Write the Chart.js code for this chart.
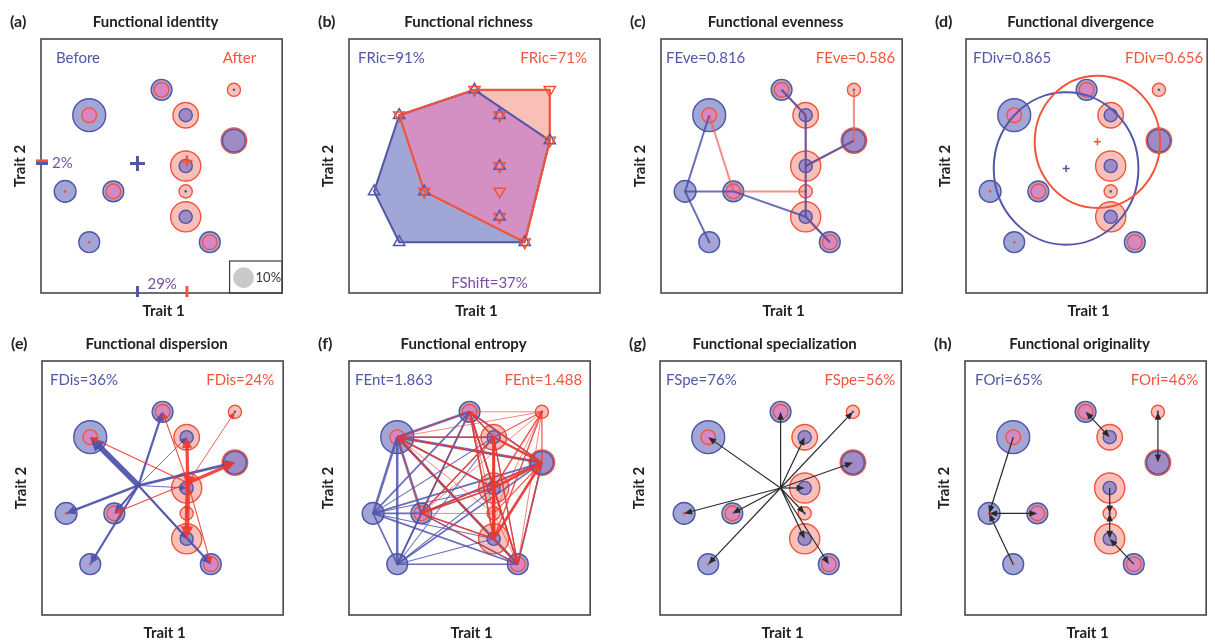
<!DOCTYPE html>
<html>
<head>
<meta charset="utf-8">
<title>Functional diversity indices</title>
<script src="https://cdn.jsdelivr.net/npm/chart.js@4.4.0/dist/chart.umd.min.js"></script>
<style>
  html, body { margin: 0; padding: 0; background: #fff; }
  body { width: 1215px; height: 640px; overflow: hidden; position: relative; }
  .panel { position: absolute; width: 300px; height: 330px; }
</style>
</head>
<body>
<div class="panel" style="left:0px;top:0px"><canvas id="pa" width="300" height="330"></canvas></div>
<div class="panel" style="left:308px;top:0px"><canvas id="pb" width="300" height="330"></canvas></div>
<div class="panel" style="left:620px;top:0px"><canvas id="pc" width="300" height="330"></canvas></div>
<div class="panel" style="left:925px;top:0px"><canvas id="pd" width="300" height="330"></canvas></div>
<div class="panel" style="left:1px;top:322px"><canvas id="pe" width="300" height="330"></canvas></div>
<div class="panel" style="left:308px;top:322px"><canvas id="pf" width="300" height="330"></canvas></div>
<div class="panel" style="left:619px;top:322px"><canvas id="pg" width="300" height="330"></canvas></div>
<div class="panel" style="left:924px;top:322px"><canvas id="ph" width="300" height="330"></canvas></div>

<script>
// species positions in trait space (trait 1, trait 2), same in every panel
var traitX = [2, 5, 6, 8, 8, 6, 6, 6, 7, 3, 1, 2];
var traitY = [7, 8, 7, 8, 6, 5, 4, 3, 2, 4, 4, 2];
// relative abundance (%) before and after
var abundBefore = [25, 10, 4, 0, 12, 4, 0, 4, 10, 10, 11, 10];
var abundAfter  = [5, 5, 15, 4, 15, 21, 4, 21, 5, 5, 0, 0];

// community weighted means (panel a, e)
var cwmBefore = [4.0, 5.1];
var cwmAfter = [6.05, 5.2];
// centre of the species pool (panel g)
var poolCenter = [5.0, 5.0];
// functional divergence circles (panel d)
var divCenterBefore = [4.15, 4.9];
var divRadiusBefore = 3.0;
var divCenterAfter = [5.45, 5.95];
var divRadiusAfter = 2.6;
// convex hull vertices, species index (panel b)
var hullBefore = [0, 1, 4, 8, 11, 10];
var hullAfter = [0, 1, 3, 4, 8, 9];
// minimum spanning trees (panel c)
var mstBefore = [[0, 10], [10, 11], [10, 9], [9, 7], [7, 8], [7, 5], [5, 2], [2, 1], [5, 4]];
var mstAfter = [[0, 9], [9, 6], [6, 5], [6, 7], [7, 8], [5, 2], [2, 1], [5, 4], [4, 3]];
// nearest neighbour links: from, to, double headed (panel h)
var nnLinks = [[0, 10, 0], [11, 10, 0], [9, 10, 1], [1, 2, 1], [3, 4, 1], [5, 6, 0], [6, 7, 1], [8, 7, 0]];
// size legend (panel a)
var legendAbund = 10;
var legendPos = [8.4, 0.6];

var panelIds = ['pa', 'pb', 'pc', 'pd', 'pe', 'pf', 'pg', 'ph'];
var panelLetters = ['(a)', '(b)', '(c)', '(d)', '(e)', '(f)', '(g)', '(h)'];
var panelTitles = ['Functional identity', 'Functional richness', 'Functional evenness', 'Functional divergence',
  'Functional dispersion', 'Functional entropy', 'Functional specialization', 'Functional originality'];
var labelsBefore = ['Before', 'FRic=91%', 'FEve=0.816', 'FDiv=0.865', 'FDis=36%', 'FEnt=1.863', 'FSpe=76%', 'FOri=65%'];
var labelsAfter = ['After', 'FRic=71%', 'FEve=0.586', 'FDiv=0.656', 'FDis=24%', 'FEnt=1.488', 'FSpe=56%', 'FOri=46%'];
var insetL = [15, 9, 5, 7, 8, 6, 6, 10];
var insetR = [26, 13, 7, 4, 9, 8, 6, 8];

var FONT = 'Lato, "Open Sans", sans-serif';
var BLUE = '#5156a8', RED = '#f0553c', PURPLE = '#7b4ea6';
var BLUE_FILL = 'rgba(84,92,180,0.55)', RED_FILL = 'rgba(240,90,70,0.38)';
// smaller circle drawn over the larger one of the other colour
var RED_ON_BLUE = 'rgba(245,118,185,0.62)', BLUE_ON_RED = 'rgba(95,100,205,0.58)';

// per-panel drawing hooks, kept out of the chart options so they are not treated as scriptable
var hooks = [];

function rad(p){ return p > 0 ? 10.4 * Math.sqrt(p / 10) : 1.3; }
function px(chart, v){ return chart.scales.x.getPixelForValue(v); }
function py(chart, v){ return chart.scales.y.getPixelForValue(v); }

// bubbles: larger circle of each species underneath, smaller on top
function circleSets(){
  var big = [], small = [], bigBg = [], bigBd = [], smBg = [], smBd = [], smBw = [];
  for (var i = 0; i < traitX.length; i++){
    var b = abundBefore[i], a = abundAfter[i];
    var blueBig = b >= a;
    big.push({x: traitX[i], y: traitY[i], r: rad(Math.max(a, b))});
    small.push({x: traitX[i], y: traitY[i], r: rad(Math.min(a, b))});
    bigBg.push(blueBig ? BLUE_FILL : RED_FILL);
    bigBd.push(blueBig ? BLUE : RED);
    var zero = Math.min(a, b) === 0;
    smBg.push(zero ? (blueBig ? RED : BLUE) : (blueBig ? RED_ON_BLUE : BLUE_ON_RED));
    smBd.push(blueBig ? RED : BLUE);
    smBw.push(zero ? 0 : 1.4);
  }
  return [
    {data: small, backgroundColor: smBg, borderColor: smBd, borderWidth: smBw, order: 5},
    {data: big, backgroundColor: bigBg, borderColor: bigBd, borderWidth: 1.4, order: 6}
  ];
}

function crossSet(pt, r, color, w){
  return {data: [{x: pt[0], y: pt[1], r: r}], pointStyle: 'cross', borderColor: color,
    backgroundColor: color, borderWidth: w, order: 1};
}

function arrowHead(ctx, x, y, ang, len, half){
  ctx.beginPath();
  ctx.moveTo(x, y);
  ctx.lineTo(x - len * Math.cos(ang) + half * Math.sin(ang), y - len * Math.sin(ang) - half * Math.cos(ang));
  ctx.lineTo(x - len * Math.cos(ang) - half * Math.sin(ang), y - len * Math.sin(ang) + half * Math.cos(ang));
  ctx.closePath();
  ctx.fill();
}

function arrow(ctx, x0, y0, x1, y1, w, color, len, half, both){
  var ang = Math.atan2(y1 - y0, x1 - x0);
  var d = Math.sqrt((x1 - x0) * (x1 - x0) + (y1 - y0) * (y1 - y0));
  var cut = Math.min(len * 0.8, d);
  ctx.strokeStyle = color; ctx.fillStyle = color; ctx.lineWidth = w;
  ctx.beginPath();
  ctx.moveTo(both ? x0 + cut * Math.cos(ang) : x0, both ? y0 + cut * Math.sin(ang) : y0);
  ctx.lineTo(x1 - cut * Math.cos(ang), y1 - cut * Math.sin(ang));
  ctx.stroke();
  arrowHead(ctx, x1, y1, ang, len, half);
  if (both) arrowHead(ctx, x0, y0, ang + Math.PI, len, half);
}

function text(ctx, s, x, y, font, color, align){
  ctx.font = font; ctx.fillStyle = color; ctx.textAlign = align || 'left'; ctx.textBaseline = 'middle';
  ctx.fillText(s, x, y);
}

var decor = {
  id: 'decor',
  beforeDatasetsDraw: function(chart){
    var h = hooks[chart.options.plugins.decor.k];
    if (h.under){ chart.ctx.save(); h.under(chart, chart.ctx); chart.ctx.restore(); }
  },
  afterDatasetsDraw: function(chart){
    var h = hooks[chart.options.plugins.decor.k];
    if (h.over){ chart.ctx.save(); h.over(chart, chart.ctx); chart.ctx.restore(); }
  },
  afterDraw: function(chart){
    var k = chart.options.plugins.decor.k, h = hooks[k], ctx = chart.ctx, ca = chart.chartArea;
    var cx = (ca.left + ca.right) / 2, cy = (ca.top + ca.bottom) / 2;
    ctx.save();
    ctx.strokeStyle = '#3c3c3c'; ctx.lineWidth = 1.5;
    ctx.strokeRect(ca.left, ca.top, ca.right - ca.left, ca.bottom - ca.top);
    text(ctx, panelLetters[k], ca.left - 31, ca.top - 17, 'bold 16px ' + FONT, '#222');
    text(ctx, panelTitles[k], cx - 6, ca.top - 17, 'bold 15px ' + FONT, '#222', 'center');
    text(ctx, 'Trait 1', cx + 2, ca.bottom + 18, 'bold 15px ' + FONT, '#222', 'center');
    ctx.save();
    ctx.translate(ca.left - 21, cy); ctx.rotate(-Math.PI / 2);
    text(ctx, 'Trait 2', 0, 0, 'bold 15px ' + FONT, '#222', 'center');
    ctx.restore();
    text(ctx, labelsBefore[k], ca.left + insetL[k], ca.top + 19, '15px ' + FONT, BLUE);
    text(ctx, labelsAfter[k], ca.right - insetR[k], ca.top + 19, '15px ' + FONT, RED, 'right');
    if (h.last) h.last(chart, ctx);
    ctx.restore();
  }
};

function makePanel(k, datasets, under, over, last){
  hooks[k] = {under: under, over: over, last: last};
  return new Chart(document.getElementById(panelIds[k]), {
    type: 'bubble',
    data: {datasets: datasets},
    options: {
      responsive: false, animation: false, events: [],
      layout: {padding: {left: 41, top: 39, right: 7, bottom: 37}},
      scales: {
        x: {type: 'linear', min: 0, max: 10, display: false},
        y: {type: 'linear', min: 0, max: 10, display: false}
      },
      plugins: {legend: {display: false}, tooltip: {enabled: false}, decor: {k: k}}
    },
    plugins: [decor]
  });
}

function polyPath(chart, ctx, idx){
  ctx.beginPath();
  idx.forEach(function(i, n){
    var x = px(chart, traitX[i]), y = py(chart, traitY[i]);
    if (n === 0) ctx.moveTo(x, y); else ctx.lineTo(x, y);
  });
  ctx.closePath();
}

function present(arr){
  var out = [];
  arr.forEach(function(p, i){ if (p > 0) out.push(i); });
  return out;
}

function build(){
  // (a) functional identity
  makePanel(0, circleSets().concat([
    crossSet(cwmBefore, 7.5, BLUE, 3),
    crossSet(cwmAfter, 5.5, RED, 2.5),
    {data: [{x: legendPos[0], y: legendPos[1], r: rad(legendAbund)}], backgroundColor: '#c9c9c9',
      borderColor: '#c9c9c9', borderWidth: 0, order: 1}
  ]), null, null, function(chart, ctx){
    var ca = chart.chartArea;
    ctx.lineWidth = 3;
    [[cwmBefore, BLUE], [cwmAfter, RED]].forEach(function(c){
      ctx.strokeStyle = c[1];
      var x = px(chart, c[0][0]);
      ctx.beginPath(); ctx.moveTo(x, ca.bottom - 7); ctx.lineTo(x, ca.bottom + 4); ctx.stroke();
    });
    [[cwmAfter, RED], [cwmBefore, BLUE]].forEach(function(c){
      ctx.strokeStyle = c[1];
      var y = py(chart, c[0][1]);
      ctx.beginPath(); ctx.moveTo(ca.left - 5, y); ctx.lineTo(ca.left + 7, y); ctx.stroke();
    });
    text(ctx, '29%', (px(chart, cwmBefore[0]) + px(chart, cwmAfter[0])) / 2, ca.bottom - 9, '15px ' + FONT, PURPLE, 'center');
    text(ctx, '2%', ca.left + 11, py(chart, cwmBefore[1]), '15px ' + FONT, PURPLE);
    ctx.strokeStyle = '#3c3c3c'; ctx.lineWidth = 1.2;
    var lx = px(chart, 7.82), ly = py(chart, 1.26);
    ctx.strokeRect(lx, ly, ca.right - lx, ca.bottom - ly);
    text(ctx, legendAbund + '%', px(chart, legendPos[0]) + 12, py(chart, legendPos[1]), '13px ' + FONT, '#333');
  });

  // (b) functional richness
  var triB = present(abundBefore).map(function(i){ return {x: traitX[i], y: traitY[i], r: 6.5}; });
  var triA = present(abundAfter).map(function(i){ return {x: traitX[i], y: traitY[i], r: 6.5}; });
  makePanel(1, [
    {data: triA, pointStyle: 'triangle', rotation: 180, backgroundColor: 'rgba(0,0,0,0)', borderColor: RED, borderWidth: 1.5, order: 1},
    {data: triB, pointStyle: 'triangle', backgroundColor: 'rgba(0,0,0,0)', borderColor: BLUE, borderWidth: 1.5, order: 2}
  ], function(chart, ctx){
    polyPath(chart, ctx, hullBefore); ctx.fillStyle = '#a0a6d5'; ctx.fill();
    polyPath(chart, ctx, hullAfter); ctx.fillStyle = '#f8c0b6'; ctx.fill();
    ctx.save();
    polyPath(chart, ctx, hullBefore); ctx.clip();
    polyPath(chart, ctx, hullAfter); ctx.fillStyle = '#d490c2'; ctx.fill();
    ctx.restore();
    ctx.lineJoin = 'round';
    polyPath(chart, ctx, hullBefore); ctx.strokeStyle = BLUE; ctx.lineWidth = 2; ctx.stroke();
    polyPath(chart, ctx, hullAfter); ctx.strokeStyle = RED; ctx.lineWidth = 2.2; ctx.stroke();
  }, null, function(chart, ctx){
    var ca = chart.chartArea;
    text(ctx, 'FShift=37%', (ca.left + ca.right) / 2 + 15, ca.bottom - 10, '15px ' + FONT, PURPLE, 'center');
  });

  // (c) functional evenness
  makePanel(2, circleSets(), null, function(chart, ctx){
    function edges(list, color, w){
      ctx.strokeStyle = color; ctx.lineWidth = w;
      list.forEach(function(e){
        ctx.beginPath();
        ctx.moveTo(px(chart, traitX[e[0]]), py(chart, traitY[e[0]]));
        ctx.lineTo(px(chart, traitX[e[1]]), py(chart, traitY[e[1]]));
        ctx.stroke();
      });
    }
    edges(mstAfter, 'rgba(240,95,85,0.7)', 2);
    edges(mstBefore, 'rgba(70,75,165,0.8)', 2);
  });

  // (d) functional divergence
  makePanel(3, circleSets().concat([
    crossSet(divCenterBefore, 3.5, BLUE, 1.5),
    crossSet(divCenterAfter, 3.5, RED, 1.5)
  ]), null, function(chart, ctx){
    [[divCenterBefore, divRadiusBefore, BLUE], [divCenterAfter, divRadiusAfter, RED]].forEach(function(c){
      var x = px(chart, c[0][0]), y = py(chart, c[0][1]);
      var rx = px(chart, c[0][0] + c[1]) - x, ry = y - py(chart, c[0][1] + c[1]);
      ctx.strokeStyle = c[2]; ctx.lineWidth = 2;
      ctx.beginPath(); ctx.ellipse(x, y, rx, ry, 0, 0, Math.PI * 2); ctx.stroke();
    });
  });

  // (e) functional dispersion
  makePanel(4, circleSets(), null, function(chart, ctx){
    function spokes(center, ab, color){
      var x0 = px(chart, center[0]), y0 = py(chart, center[1]);
      ab.forEach(function(p, i){
        if (p <= 0) return;
        var w = Math.max(0.9, 0.22 * p);
        arrow(ctx, x0, y0, px(chart, traitX[i]), py(chart, traitY[i]), w, color, 6 + 1.4 * w, 2.5 + 0.8 * w, false);
      });
    }
    spokes(cwmBefore, abundBefore, 'rgba(75,80,170,0.92)');
    spokes(cwmAfter, abundAfter, 'rgba(240,55,45,0.9)');
  });

  // (f) functional entropy
  makePanel(5, circleSets(), null, function(chart, ctx){
    function mesh(ab, color){
      ctx.strokeStyle = color;
      var ids = present(ab);
      ids.forEach(function(i, n){
        ids.slice(n + 1).forEach(function(j){
          ctx.lineWidth = Math.max(0.7, 0.16 * Math.sqrt(ab[i] * ab[j]));
          ctx.beginPath();
          ctx.moveTo(px(chart, traitX[i]), py(chart, traitY[i]));
          ctx.lineTo(px(chart, traitX[j]), py(chart, traitY[j]));
          ctx.stroke();
        });
      });
    }
    mesh(abundBefore, 'rgba(80,85,172,0.85)');
    mesh(abundAfter, 'rgba(240,55,45,0.85)');
  });

  // (g) functional specialization
  makePanel(6, circleSets(), null, function(chart, ctx){
    var x0 = px(chart, poolCenter[0]), y0 = py(chart, poolCenter[1]);
    traitX.forEach(function(v, i){
      arrow(ctx, x0, y0, px(chart, v), py(chart, traitY[i]), 1.2, '#2a2a2a', 8, 3.2, false);
    });
  });

  // (h) functional originality
  makePanel(7, circleSets(), null, function(chart, ctx){
    nnLinks.forEach(function(l){
      arrow(ctx, px(chart, traitX[l[0]]), py(chart, traitY[l[0]]), px(chart, traitX[l[1]]), py(chart, traitY[l[1]]),
        1.2, '#2a2a2a', 8, 3.2, l[2] === 1);
    });
  });
}

if (document.fonts && document.fonts.load){
  Promise.all([document.fonts.load('15px Lato'), document.fonts.load('bold 15px Lato')])
    .then(build, build);
} else {
  build();
}
</script>
</body>
</html>
